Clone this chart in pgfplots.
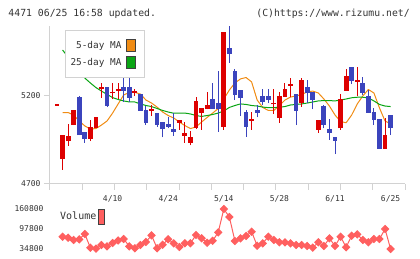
\documentclass[border=0pt]{standalone}
\usepackage{pgfplots}
\pgfplotsset{compat=1.18}
\usepackage{pgfplotstable}
\usepackage{fontspec}
\setmainfont{DejaVu Sans Mono}
\definecolor{candlered}{RGB}{221,0,0}
\definecolor{candleblue}{RGB}{59,68,189}
\definecolor{maorange}{RGB}{240,140,20}
\definecolor{magreen}{RGB}{10,165,20}
\definecolor{volred}{RGB}{255,95,95}
\definecolor{axisgray}{RGB}{210,210,210}
\definecolor{textgray}{RGB}{51,51,51}

% up candles: index open high low close
\pgfplotstableread{
i o h l c
0 5144 5154 5144 5154
1 4842 4978 4780 4978
2 4944 5041 4916 4973
3 5035 5120 5035 5120
6 4957 5064 4943 5022
7 5020 5081 5020 5081
8 5238 5272 5190 5253
10 5215 5276 5181 5225
11 5231 5274 5181 5241
14 5216 5238 5200 5226
17 5116 5147 5086 5126
22 5048 5064 5007 5064
23 4974 5054 4935 4990
24 4935 5001 4920 4969
25 5020 5194 5012 5172
26 5103 5132 5007 5132
27 5124 5224 5124 5149
30 5026 5564 5007 5564
35 5059 5107 5007 5069
39 5153 5240 5098 5163
40 5077 5223 5048 5200
41 5196 5274 5196 5240
42 5258 5302 5196 5268
44 5159 5302 5139 5291
47 5007 5064 4991 5064
51 5016 5211 5007 5181
52 5230 5353 5230 5314
54 5282 5365 5200 5292
59 4899 5073 4899 4978
}\uptab

% down candles: index open high low close
\pgfplotstableread{
i o h l c
4 5196 5202 4978 4978
5 4997 4997 4935 4957
9 5253 5253 5137 5145
12 5253 5314 5168 5230
13 5253 5314 5168 5190
15 5213 5213 5116 5116
16 5120 5143 5037 5048
18 5105 5105 5026 5037
19 5054 5054 4965 5011
20 5039 5082 5016 5026
21 5012 5102 4973 4997
28 5183 5276 5128 5128
29 5160 5344 4997 5128
31 5473 5600 5389 5440
32 5342 5353 5177 5207
33 5234 5234 5086 5190
34 5109 5120 4969 5026
36 5120 5149 5079 5105
37 5200 5240 5149 5166
38 5200 5240 5159 5177
43 5211 5211 5035 5116
45 5251 5291 5159 5219
46 5223 5223 5124 5177
48 5143 5149 5016 5035
49 5012 5069 4950 4991
50 4967 4967 4870 4946
53 5365 5365 5268 5287
55 5272 5310 5206 5219
56 5200 5234 5105 5105
57 5107 5130 5035 5064
58 5069 5069 4899 4899
60 5092 5092 4978 5020
}\downtab

% moving averages
\pgfplotstableread{
i ma5 ma25
1 5106 5461
2 5106 5422
3 5092 5382
4 5058 5342
5 5030 5302
6 5012 5274
7 5015 5248
8 5035 5228
9 5058 5209
10 5103 5191
11 5155 5180
12 5206 5172
13 5220 5166
14 5221 5166
15 5211 5155
16 5177 5146
17 5160 5140
18 5137 5129
19 5109 5118
20 5089 5109
21 5075 5102
22 5052 5102
23 5032 5103
24 5015 5098
25 5024 5089
26 5052 5084
27 5078 5089
28 5103 5095
29 5129 5103
30 5183 5115
31 5234 5135
32 5274 5146
33 5297 5155
34 5305 5152
35 5280 5146
36 5177 5143
37 5135 5137
38 5118 5134
39 5118 5134
40 5146 5136
41 5177 5140
42 5194 5149
43 5200 5152
44 5209 5155
45 5223 5160
46 5228 5166
47 5217 5172
48 5183 5174
49 5143 5174
50 5092 5172
51 5055 5177
52 5048 5183
53 5092 5190
54 5155 5193
55 5200 5193
56 5237 5189
57 5217 5172
58 5132 5152
59 5058 5143
60 5041 5140
}\matab

% volume
\pgfplotstableread{
i v
1 73500
2 70400
3 63200
4 65400
5 82000
6 38900
7 36000
8 47400
9 43300
10 53700
11 61600
12 66300
13 43300
14 37000
15 47400
16 56900
17 78000
18 37000
19 48300
20 65400
21 52800
22 41100
23 52800
24 52800
25 78900
26 68500
27 54300
28 60600
29 87400
30 160800
31 135600
32 60000
33 68500
34 75800
35 89300
36 45200
37 52800
38 73500
39 63200
40 55900
41 55900
42 52800
43 47400
44 47400
45 44300
46 38900
47 55900
48 44300
49 68500
50 44300
51 73500
52 40200
53 76700
54 81100
55 63200
56 55900
57 66300
58 66300
59 97800
60 34800
}\voltab

\begin{document}
\begin{tikzpicture}
\path[use as bounding box] (0pt,0pt) rectangle (420pt,259pt);
\node[anchor=base west, inner sep=0pt, text=textgray, font=\fontsize{9.8}{10}\selectfont] at (8.3pt,242.3pt) {4471 06/25 16:58 updated.};
\node[anchor=base east, inner sep=0pt, text=textgray, font=\fontsize{9.8}{10}\selectfont] at (410pt,242.3pt) {(C)https://www.rizumu.net/};

\begin{axis}[
  at={(50pt,75pt)}, anchor=south west, scale only axis,
  width=355pt, height=158.4pt,
  xmin=-1.259, xmax=62.59, ymin=4700, ymax=5600,
  axis x line*=bottom, axis y line*=left,
  axis line style={axisgray, line width=1pt, -},
  tick style={axisgray, line width=1pt},
  major tick length=6pt, tick align=outside,
  ytick={4700,5200}, yticklabels={4700,5200},
  scaled ticks=false,
  xtick={-1.259,4.545,10.35,16.15,21.96,27.76,33.57,39.37,45.18,50.98,56.79,62.59},
  xticklabels={},
  extra x ticks={10,20,30,40,50,60},
  extra x tick labels={4/10,4/24,5/14,5/28,6/11,6/25},
  extra x tick style={major tick length=0pt, xticklabel style={yshift=-8pt}},
  ticklabel style={font=\fontsize{8}{9}\selectfont, text=textgray},
  clip=false,
  legend plot pos=right, legend cell align=right,
  legend style={at={(0.0423,0.975)}, anchor=north west, draw=axisgray, line width=1pt,
    fill=white, font=\fontsize{9.4}{10}\selectfont, text=textgray,
    inner xsep=3pt, inner ysep=8.5pt, row sep=3.6pt,
    /tikz/every odd column/.append style={column sep=2.5pt}},
]
% moving averages
\addplot[maorange, line width=1pt, line join=round,
  legend image code/.code={\draw[fill=maorange, draw=black!75, line width=0.8pt] (0pt,-6.3pt) rectangle (9.4pt,6.3pt); \path[draw=none] (0pt,0pt) -- (15pt,0pt);}]
  table[x=i, y=ma5] {\matab};
\addlegendentry{5-day MA}
\addplot[magreen, line width=1pt, line join=round,
  legend image code/.code={\draw[fill=magreen, draw=black!75, line width=0.8pt] (0pt,-6.3pt) rectangle (9.4pt,6.3pt); \path[draw=none] (0pt,0pt) -- (15pt,0pt);}]
  table[x=i, y=ma25] {\matab};
\addlegendentry{25-day MA}
% wicks
\addplot[forget plot, draw=none, mark=none,
  error bars/.cd, y dir=plus, y explicit, error mark=none,
  error bar style={draw=candlered, line width=1pt}]
  table[x=i, y=l, y error plus expr=\thisrow{h}-\thisrow{l}] {\uptab};
\addplot[forget plot, draw=none, mark=none,
  error bars/.cd, y dir=plus, y explicit, error mark=none,
  error bar style={draw=candleblue, line width=1pt}]
  table[x=i, y=l, y error plus expr=\thisrow{h}-\thisrow{l}] {\downtab};
% bodies
\addplot[forget plot, draw=none, mark=none,
  error bars/.cd, y dir=plus, y explicit, error mark=none,
  error bar style={draw=candlered, line width=4.8pt}]
  table[x=i, y=o, y error plus expr=\thisrow{c}-\thisrow{o}] {\uptab};
\addplot[forget plot, draw=none, mark=none,
  error bars/.cd, y dir=plus, y explicit, error mark=none,
  error bar style={draw=candleblue, line width=4.8pt}]
  table[x=i, y=c, y error plus expr=\thisrow{o}-\thisrow{c}] {\downtab};
\end{axis}

\begin{axis}[
  at={(50pt,10pt)}, anchor=south west, scale only axis,
  width=355pt, height=40pt,
  xmin=-1.259, xmax=62.59, ymin=34800, ymax=160800,
  axis line style={draw=none}, major tick length=0pt,
  scaled ticks=false,
  xtick=\empty,
  ytick={34800,97800,160800}, yticklabels={34800,97800,160800},
  ticklabel style={font=\fontsize{8}{9}\selectfont, text=textgray},
  yticklabel style={xshift=-3pt},
  clip=false,
  legend plot pos=right,
  legend style={at={(0.0141,1.05)}, anchor=north west, draw=none,
    fill=white, font=\fontsize{10}{11}\selectfont, text=textgray},
]
\addplot[volred, line width=1pt, mark=square*, mark size=2.5pt,
  mark options={rotate=45, draw=volred, fill=volred},
  legend image code/.code={\draw[fill=volred, draw=black!75, line width=0.8pt] (0pt,-7.2pt) rectangle (5.6pt,7.2pt);}]
  table[x=i, y=v] {\voltab};
\addlegendentry{Volume}
\end{axis}
\end{tikzpicture}
\end{document}
